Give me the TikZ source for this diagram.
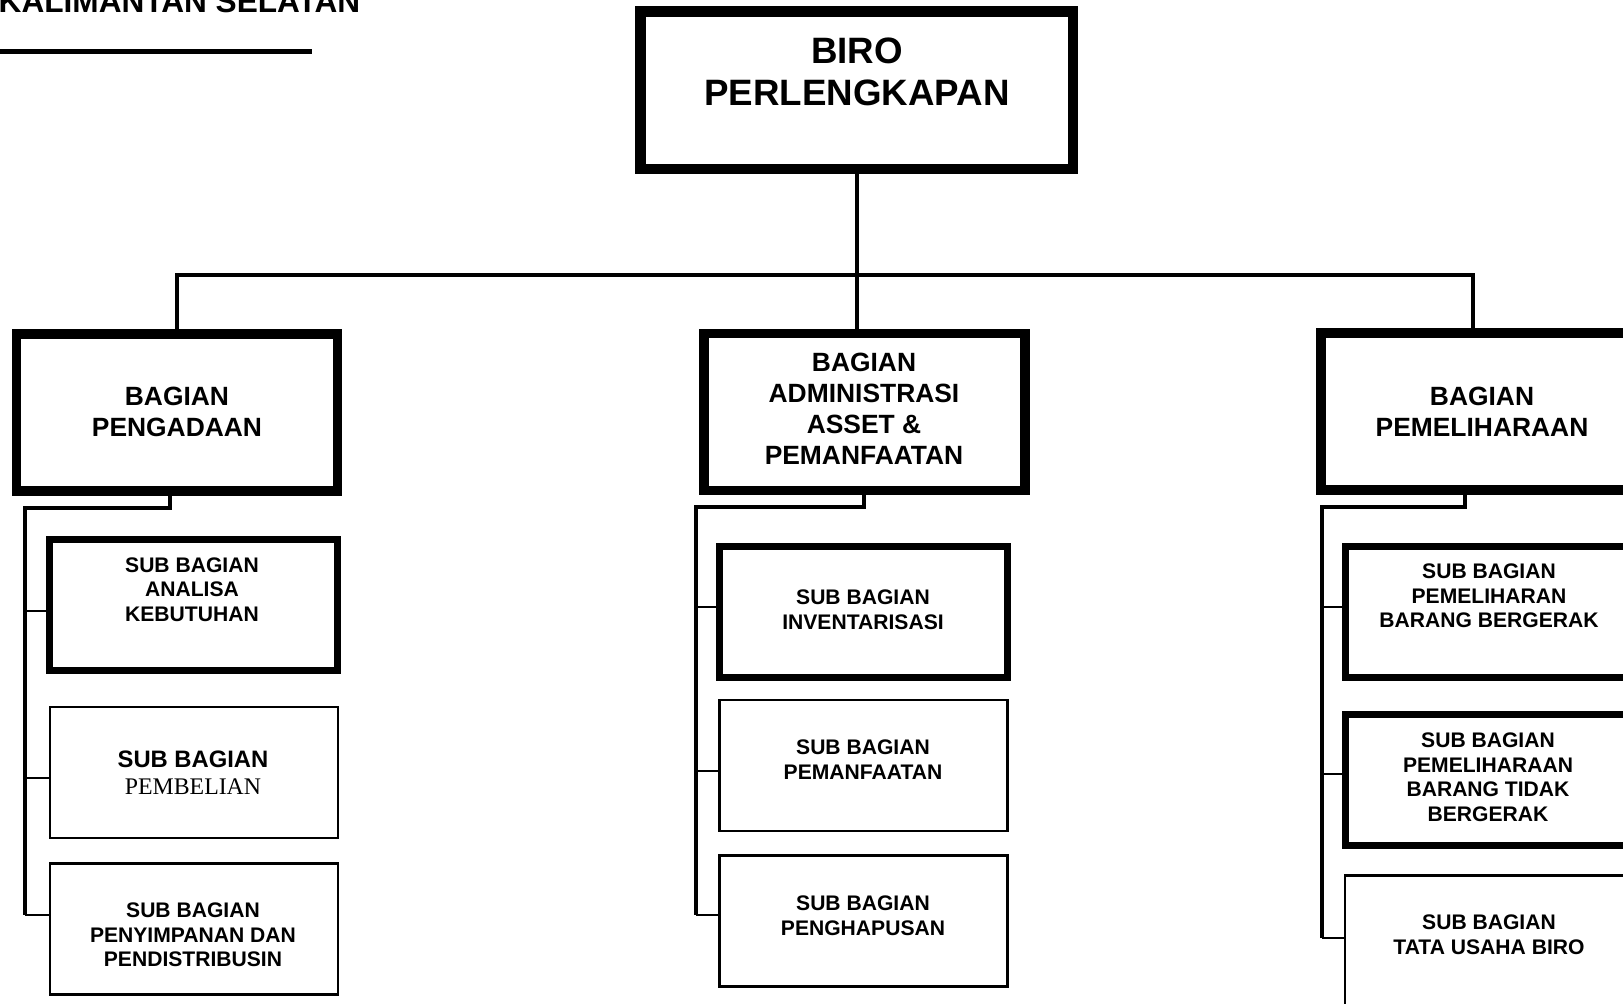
\documentclass[tikz,border=0pt]{standalone}
\usepackage{fontspec}
\setmainfont{Liberation Sans}
\newfontfamily\timesfont{Liberation Serif}
\begin{document}
\begin{tikzpicture}[x=1pt,y=-1pt,
    headbox/.style={draw,line width=10.5pt,minimum width=432.5pt,minimum height=157.5pt,inner sep=0pt},
    unitbox/.style={draw,line width=9.5pt,minimum width=321pt,minimum height=157pt,inner sep=0pt},
    subthick/.style={draw,line width=7pt,minimum width=288pt,minimum height=131pt,inner sep=0pt},
    subthin/.style={draw,line width=2.2pt,minimum width=288pt,minimum height=131pt,inner sep=0pt},
    conn/.style={line width=4pt},
    tick/.style={line width=2.5pt},
    hdtxt/.style={align=center,inner sep=0pt,font=\fontsize{36.7}{42}\selectfont\bfseries},
    unittxt/.style={align=center,inner sep=0pt,font=\fontsize{26.4}{30.9}\selectfont\bfseries},
    subtxt/.style={align=center,inner sep=0pt,font=\fontsize{21.1}{24.5}\selectfont\bfseries}]
  \useasboundingbox (0,0) rectangle (1623,1004);
  \clip (0,0) rectangle (1623,1004);
  % kop
  \node[anchor=base east,inner sep=0pt,font=\fontsize{31.6}{36}\selectfont\bfseries] (prov) at (360.5,12) {KALIMANTAN SELATAN};
  \coordinate (ulA) at (-5,51.5);
  \coordinate (ulB) at (312,51.5);
  \draw[line width=5pt] (ulA) -- (ulB);
  % biro
  \node[headbox] (biro) at (856.5,90) {};
  \node[hdtxt] (biroT) at (857,72) {BIRO\\PERLENGKAPAN};
  % bagian
  \node[unitbox] (peng) at (177,412.5) {};
  \node[unitbox] (admin) at (864.5,412) {};
  \node[unitbox] (pem) at (1481.5,411.5) {};
  \node[unittxt] (pengT) at (177,412) {BAGIAN\\PENGADAAN};
  \node[unittxt] (adminT) at (864,409) {BAGIAN\\ADMINISTRASI\\ASSET \&\\PEMANFAATAN};
  \node[unittxt] (pemT) at (1482,412) {BAGIAN\\PEMELIHARAAN};
  % sub bagian
  \node[subthick] (analisa) at (193,605) {};
  \node[subthin] (beli) at (194,772.5) {};
  \node[subthin] (simpan) at (194,929) {};
  \node[subthick] (inven) at (863.5,612) {};
  \node[subthin] (manfaat) at (863.5,765.5) {};
  \node[subthin] (hapus) at (863.5,921) {};
  \node[subthick] (gerak) at (1489.5,612) {};
  \node[subthick] (tidak) at (1489.5,780) {};
  \node[subthin] (tu) at (1489,941) {};
  \node[subtxt] (analisaT) at (192,589.5) {SUB BAGIAN\\ANALISA\\KEBUTUHAN};
  \node[align=center,inner sep=0pt,font=\fontsize{23.8}{27}\selectfont] (beliT) at (193,773) {\textbf{SUB BAGIAN}\\{\timesfont PEMBELIAN}};
  \node[subtxt] (simpanT) at (193,935) {SUB BAGIAN\\PENYIMPANAN DAN\\PENDISTRIBUSIN};
  \node[subtxt] (invenT) at (863,609.5) {SUB BAGIAN\\INVENTARISASI};
  \node[subtxt] (manfaatT) at (863,759.5) {SUB BAGIAN\\PEMANFAATAN};
  \node[subtxt] (hapusT) at (863,915.5) {SUB BAGIAN\\PENGHAPUSAN};
  \node[subtxt] (gerakT) at (1489,596) {SUB BAGIAN\\PEMELIHARAN\\BARANG BERGERAK};
  \node[subtxt] (tidakT) at (1488,777) {SUB BAGIAN\\PEMELIHARAAN\\BARANG TIDAK\\BERGERAK};
  \node[subtxt] (tuT) at (1489,934.5) {SUB BAGIAN\\TATA USAHA BIRO};
  % garis
  \coordinate (hl) at (857,275);
  \draw[conn] (biro.south) -- (biro.south |- admin.north);
  \draw[conn] (peng.north) |- (hl) -| ([xshift=-8.5pt]pem.north);
  \coordinate (jL) at (24.5,508);
  \coordinate (bL) at (24.5,915);
  \draw[conn] ([xshift=-7pt]peng.south) |- (jL) -- (bL);
  \draw[tick] (bL) -- ([yshift=14pt]simpan.west);
  \draw[tick] ([yshift=-6pt]analisa.west) -- +(-21,0);
  \draw[tick] ([yshift=-5.5pt]beli.west) -- +(-24.5,0);
  \coordinate (jC) at (695.5,507);
  \coordinate (bC) at (695.5,915);
  \draw[conn] ([xshift=-0.5pt]admin.south) |- (jC) -- (bC);
  \draw[tick] (bC) -- ([yshift=6pt]hapus.west);
  \draw[tick] ([yshift=5pt]inven.west) -- +(-20.5,0);
  \draw[tick] ([yshift=-5.5pt]manfaat.west) -- +(-23.5,0);
  \coordinate (jR) at (1321.5,507);
  \coordinate (bR) at (1321.5,938);
  \draw[conn] ([xshift=-16.5pt]pem.south) |- (jR) -- (bR);
  \draw[tick] (bR) -- ([yshift=3pt]tu.west);
  \draw[tick] ([yshift=5pt]gerak.west) -- +(-20.5,0);
  \draw[tick] ([yshift=6pt]tidak.west) -- +(-20.5,0);
\end{tikzpicture}
\end{document}
